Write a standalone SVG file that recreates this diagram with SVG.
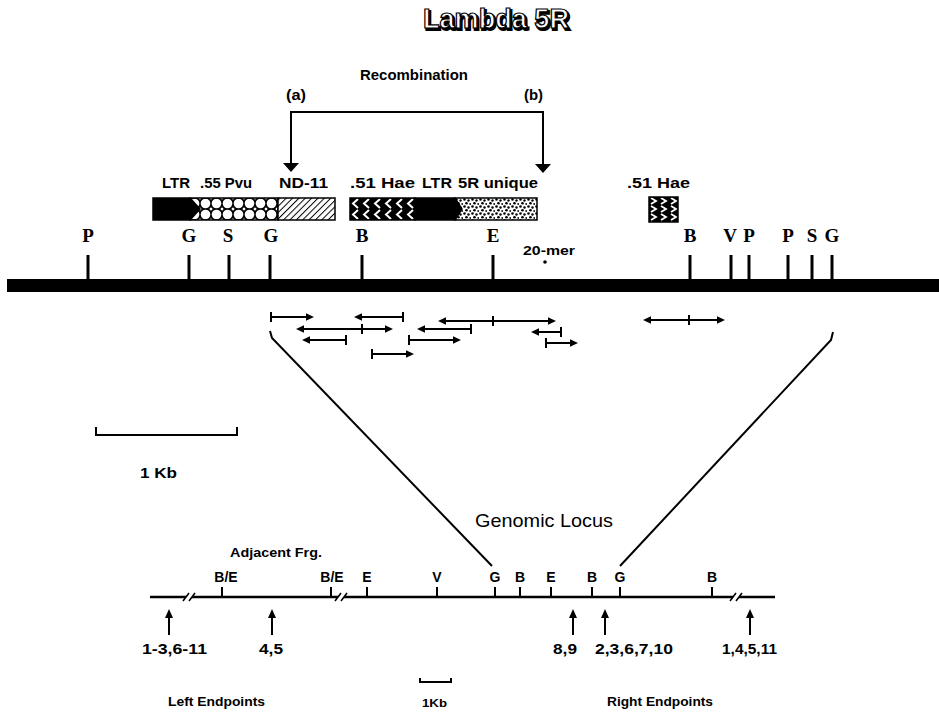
<svg xmlns="http://www.w3.org/2000/svg" width="939" height="718" viewBox="0 0 939 718">
<style>
.bg{fill:#fff}
.t{font-family:"Liberation Sans",Arial,sans-serif;font-weight:bold;fill:#000}
.tr{font-family:"Liberation Sans",Arial,sans-serif;font-weight:normal;fill:#000}
.site{font-family:"Liberation Serif","Times New Roman",serif;font-weight:bold;font-size:19px;fill:#000;text-anchor:middle}
.lsite{font-family:"Liberation Sans",Arial,sans-serif;font-weight:bold;font-size:14px;fill:#000;text-anchor:middle}
.tick{stroke:#000;stroke-width:3}
.ltick{stroke:#000;stroke-width:2}
.ln{stroke:#000;stroke-width:2;fill:none}
.frag{stroke:#000;stroke-width:2;fill:none}
.head{fill:#000;stroke:none}
.box{stroke:#000;stroke-width:1.5}
</style>
<defs>
<pattern id="pvu" width="11" height="11" patternUnits="userSpaceOnUse" x="200" y="198">
<rect width="11" height="11" fill="#000"/>
<circle cx="5.5" cy="5.5" r="4.8" fill="#fff"/>
<path d="M0,-2.2 L2.2,0 L0,2.2 L-2.2,0Z M11,-2.2 L13.2,0 L11,2.2 L8.8,0Z M0,8.8 L2.2,11 L0,13.2 L-2.2,11Z M11,8.8 L13.2,11 L11,13.2 L8.8,11Z" fill="#fff" stroke="#000" stroke-width="0.8"/>
</pattern>
<pattern id="hatch" width="4.5" height="4.5" patternUnits="userSpaceOnUse" patternTransform="rotate(45)">
<rect width="4.5" height="4.5" fill="#fff"/>
<line x1="0" y1="0" x2="0" y2="4.5" stroke="#000" stroke-width="2"/>
</pattern>
<pattern id="hae" width="11" height="11" patternUnits="userSpaceOnUse" x="350" y="198">
<rect width="11" height="11" fill="#000"/>
<path d="M8,1 L3,5.5 L8,10" stroke="#fff" stroke-width="2" fill="none"/>
</pattern>
<pattern id="hae2" width="10" height="8" patternUnits="userSpaceOnUse" x="649" y="197">
<rect width="10" height="8" fill="#000"/>
<path d="M2,1 L7,4 L2,7" stroke="#fff" stroke-width="1.8" fill="none"/>
</pattern>
<pattern id="dots" width="8" height="7" patternUnits="userSpaceOnUse" x="455" y="198">
<rect width="8" height="7" fill="#fff"/>
<circle cx="1.5" cy="1.5" r="1.3" fill="#000"/>
<circle cx="5.5" cy="2.5" r="1.2" fill="#000"/>
<circle cx="3.5" cy="5.2" r="1.3" fill="#000"/>
<circle cx="7.2" cy="6" r="0.9" fill="#000"/>
</pattern>
</defs>
<rect class="bg" width="939" height="718"/>

<g id="title">
<text x="424.5" y="29.5" font-family="Liberation Sans,Arial,sans-serif" font-weight="bold" font-size="27" textLength="146" lengthAdjust="spacingAndGlyphs" fill="#000" stroke="#000" stroke-width="2">Lambda 5R</text>
<text x="423" y="28" font-family="Liberation Sans,Arial,sans-serif" font-weight="bold" font-size="27" textLength="146" lengthAdjust="spacingAndGlyphs" fill="#fff" stroke="#000" stroke-width="1.2">Lambda 5R</text>
</g>

<g id="recombination">
<text class="t" x="360" y="80" font-size="14" textLength="108" lengthAdjust="spacingAndGlyphs">Recombination</text>
<text class="t" x="286" y="100" font-size="14" textLength="20" lengthAdjust="spacingAndGlyphs">(a)</text>
<text class="t" x="524" y="100" font-size="14" textLength="19" lengthAdjust="spacingAndGlyphs">(b)</text>
</g>

<g id="connectors">
<path class="ln" d="M291,164 V112 H543 V165"/>
<path class="head" d="M283,163 H299 L291,172Z M535,164 H551 L543,173Z"/>
<path class="ln" d="M270,331 L272,338 L492,566" stroke-width="1.6"/>
<path class="ln" d="M833,332 L831,340 L620,566" stroke-width="1.6"/>
<g id="fragments">
<path class="frag" d="M271,317 H307 M403,317 H361 M445,321 H549 M303,329 H386 M471,329 H424 M561,332 H538 M346,340 H309 M409,340 H454 M546,343 H571 M372,354 H407 M650,320 H718"/>
<path class="head" d="
M314,317 l-8,-3.7 v7.4Z
M354,317 l8,-3.7 v7.4Z
M438,321 l8,-3.7 v7.4Z M556,321 l-8,-3.7 v7.4Z
M296,329 l8,-3.7 v7.4Z M393,329 l-8,-3.7 v7.4Z
M417,329 l8,-3.7 v7.4Z
M531,332 l8,-3.7 v7.4Z
M302,340 l8,-3.7 v7.4Z
M461,340 l-8,-3.7 v7.4Z
M578,343 l-8,-3.7 v7.4Z
M414,354 l-8,-3.7 v7.4Z
M643,320 l8,-3.7 v7.4Z M725,320 l-8,-3.7 v7.4Z"/>
<path class="head" d="
M270,312 h2 v10 h-2Z
M402,312 h2 v10 h-2Z
M492,316 h2 v10 h-2Z
M361,324 h2 v10 h-2Z
M470,324 h2 v10 h-2Z
M560,327 h2 v10 h-2Z
M345,335 h2 v10 h-2Z
M408,335 h2 v10 h-2Z
M545,338 h2 v10 h-2Z
M371,349 h2 v10 h-2Z
M688,315 h2 v10 h-2Z"/>
</g>
</g>

<g id="elements">
<g id="ltr1">
<text class="t" x="162" y="188" font-size="14" textLength="28" lengthAdjust="spacingAndGlyphs">LTR</text>
</g>
<g id="pvu-box">
<text class="t" x="200" y="188" font-size="14" textLength="52" lengthAdjust="spacingAndGlyphs">.55 Pvu</text>
<rect class="box" x="190" y="198" width="88" height="22" fill="url(#pvu)"/>
</g>
<g id="nd11">
<text class="t" x="279" y="188" font-size="14" textLength="49" lengthAdjust="spacingAndGlyphs">ND-11</text>
<rect class="box" x="278" y="198" width="57" height="22" fill="url(#hatch)"/>
</g>
<path class="box" d="M153,198 H190 L200,209 L190,220 H153Z" fill="#000"/>
<g id="hae1">
<text class="t" x="350" y="188" font-size="14" textLength="65" lengthAdjust="spacingAndGlyphs">.51 Hae</text>
<rect class="box" x="350" y="198" width="65" height="22" fill="url(#hae)"/>
</g>
<g id="unique5r">
<text class="t" x="458" y="188" font-size="14" textLength="80" lengthAdjust="spacingAndGlyphs">5R unique</text>
<rect class="box" x="455" y="198" width="82" height="22" fill="url(#dots)"/>
</g>
<g id="ltr2">
<text class="t" x="422" y="188" font-size="14" textLength="30" lengthAdjust="spacingAndGlyphs">LTR</text>
<path class="box" d="M415,198 H455 L462,209 L455,220 H415Z" fill="#000"/>
</g>
<g id="hae2box">
<text class="t" x="627" y="188" font-size="14" textLength="63" lengthAdjust="spacingAndGlyphs">.51 Hae</text>
<rect class="box" x="649" y="197" width="29" height="25" fill="url(#hae2)"/>
</g>
</g>

<g id="clone-map">
<rect x="7" y="279" width="932" height="13" fill="#000"/>
<line class="tick" x1="88" y1="255" x2="88" y2="280"/>
<line class="tick" x1="189" y1="255" x2="189" y2="280"/>
<line class="tick" x1="229" y1="255" x2="229" y2="280"/>
<line class="tick" x1="270" y1="255" x2="270" y2="280"/>
<line class="tick" x1="362" y1="255" x2="362" y2="280"/>
<line class="tick" x1="493" y1="255" x2="493" y2="280"/>
<line class="tick" x1="690" y1="255" x2="690" y2="280"/>
<line class="tick" x1="731" y1="255" x2="731" y2="280"/>
<line class="tick" x1="749" y1="255" x2="749" y2="280"/>
<line class="tick" x1="788" y1="255" x2="788" y2="280"/>
<line class="tick" x1="812" y1="255" x2="812" y2="280"/>
<line class="tick" x1="832" y1="255" x2="832" y2="280"/>
<text class="site" x="88" y="242">P</text>
<text class="site" x="189" y="242">G</text>
<text class="site" x="228" y="242">S</text>
<text class="site" x="271" y="242">G</text>
<text class="site" x="362" y="242">B</text>
<text class="site" x="493" y="242">E</text>
<text class="site" x="690" y="242">B</text>
<text class="site" x="730" y="242">V</text>
<text class="site" x="749" y="242">P</text>
<text class="site" x="788" y="242">P</text>
<text class="site" x="812" y="242">S</text>
<text class="site" x="832" y="242">G</text>
<text class="t" x="523" y="255" font-size="13" textLength="52" lengthAdjust="spacingAndGlyphs">20-mer</text>
<circle cx="545" cy="262" r="1.8" fill="#000"/>
</g>

<g id="scale-1kb">
<path class="ln" d="M96,427 V435 H237 V427" stroke-width="2.5"/>
<text class="t" x="140" y="478" font-size="15" textLength="37" lengthAdjust="spacingAndGlyphs">1 Kb</text>
</g>

<g id="genomic-locus">
<text class="tr" x="475" y="527" font-size="19" textLength="138" lengthAdjust="spacingAndGlyphs">Genomic Locus</text>
<text class="t" x="230" y="557" font-size="13" textLength="92" lengthAdjust="spacingAndGlyphs">Adjacent Frg.</text>
<path d="M150,597 H186 M192,597 H338 M344,597 H733 M739,597 H775" stroke="#000" stroke-width="2.5" fill="none"/>
<g stroke="#000" stroke-width="1.5">
<line x1="183" y1="601" x2="189" y2="593"/><line x1="189" y1="601" x2="195" y2="593"/>
<line x1="335" y1="601" x2="341" y2="593"/><line x1="341" y1="601" x2="347" y2="593"/>
<line x1="730" y1="601" x2="736" y2="593"/><line x1="736" y1="601" x2="742" y2="593"/>
</g>
<g class="ltick">
<line x1="222" y1="587" x2="222" y2="597"/>
<line x1="331" y1="587" x2="331" y2="597"/>
<line x1="367" y1="587" x2="367" y2="597"/>
<line x1="437" y1="587" x2="437" y2="597"/>
<line x1="495" y1="587" x2="495" y2="597"/>
<line x1="520" y1="587" x2="520" y2="597"/>
<line x1="551" y1="587" x2="551" y2="597"/>
<line x1="592" y1="587" x2="592" y2="597"/>
<line x1="620" y1="587" x2="620" y2="597"/>
<line x1="712" y1="587" x2="712" y2="597"/>
</g>
<text class="lsite" x="226" y="582">B/E</text>
<text class="lsite" x="332" y="582">B/E</text>
<text class="lsite" x="367" y="582">E</text>
<text class="lsite" x="437" y="582">V</text>
<text class="lsite" x="495" y="582">G</text>
<text class="lsite" x="520" y="582">B</text>
<text class="lsite" x="551" y="582">E</text>
<text class="lsite" x="592" y="582">B</text>
<text class="lsite" x="620" y="582">G</text>
<text class="lsite" x="712" y="582">B</text>
</g>

<g id="endpoints">
<path class="ln" d="M169,635 V617 M272,635 V617 M573,635 V617 M605,635 V617 M750,635 V617"/>
<path class="head" d="M169,609 l-4,9 h8Z M272,609 l-4,9 h8Z M573,609 l-4,9 h8Z M605,609 l-4,9 h8Z M750,609 l-4,9 h8Z"/>
<text class="t" x="142" y="654" font-size="15" textLength="65" lengthAdjust="spacingAndGlyphs">1-3,6-11</text>
<text class="t" x="259" y="654" font-size="15" textLength="24" lengthAdjust="spacingAndGlyphs">4,5</text>
<text class="t" x="553" y="654" font-size="15" textLength="24" lengthAdjust="spacingAndGlyphs">8,9</text>
<text class="t" x="595" y="654" font-size="15" textLength="78" lengthAdjust="spacingAndGlyphs">2,3,6,7,10</text>
<text class="t" x="722" y="654" font-size="15" textLength="55" lengthAdjust="spacingAndGlyphs">1,4,5,11</text>
<text class="t" x="168" y="706" font-size="13" textLength="97" lengthAdjust="spacingAndGlyphs">Left Endpoints</text>
<text class="t" x="607" y="706" font-size="13" textLength="106" lengthAdjust="spacingAndGlyphs">Right Endpoints</text>
</g>

<g id="scale-small">
<path class="ln" d="M420,678 V682 H451 V678" stroke-width="2"/>
<text class="t" x="422" y="707" font-size="11" textLength="25" lengthAdjust="spacingAndGlyphs">1Kb</text>
</g>
</svg>
